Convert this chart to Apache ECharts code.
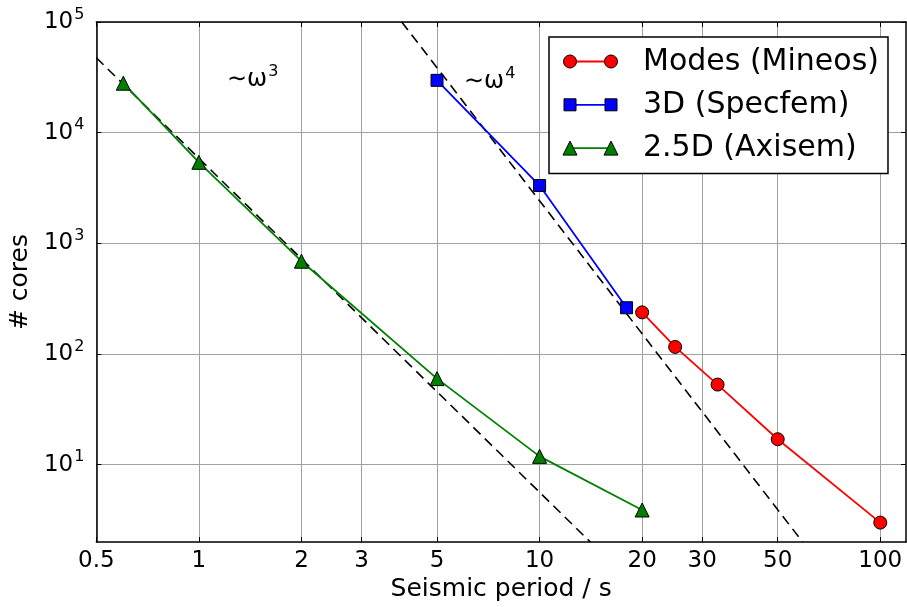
<!DOCTYPE html>
<html>
<head>
<meta charset="utf-8">
<script src="https://cdn.jsdelivr.net/npm/echarts@6/dist/echarts.min.js"></script>
<style>
  html, body { margin: 0; padding: 0; background: #fff; }
  #chart { width: 907px; height: 607px; }
</style>
</head>
<body>
<div id="chart"></div>
<script>
// ---- data ----
const xTickLabels = [0.5, 1, 2, 3, 5, 10, 20, 30, 50, 100];
const yTickLabels = [10, 100, 1000, 10000, 100000];
const xRange = [0.5, 119];
const yRange = [2, 100000];

const modesPeriod = [20, 25, 33.3, 50, 100];
const modesCores = [238, 116, 53, 17, 3];

const specfemPeriod = [5, 10, 18];
const specfemCores = [29700, 3330, 262];

const axisemPeriod = [0.6, 1, 2, 5, 10, 20];
const axisemCores = [28000, 5400, 690, 60, 11.9, 3.9];

const omega3Period = [0.5, 14.1];
const omega3Cores = [47500, 2];

const omega4Period = [3.94, 59.2];
const omega4Cores = [100000, 2];

const seriesNames = ['Modes (Mineos)', '3D (Specfem)', '2.5D (Axisem)'];
const seriesColors = ['#ff0000', '#0000ff', '#008000'];
const seriesSymbols = ['circle', 'rect', 'triangle'];
const annotationExponents = ['3', '4'];

// ---- helpers ----
const L = Math.log10;
function pairs(xs, ys) { return xs.map((x, i) => [L(x), L(ys[i])]); }
function fmtX(v) { return String(+Math.pow(10, v).toPrecision(3)); }
const FONT = 'DejaVu Sans';
const SYM_SIZE = { circle: 13, rect: 12, triangle: 14 };

const chart = echarts.init(document.getElementById('chart'), null, { renderer: 'canvas' });

const gridLine = { show: true, lineStyle: { color: '#a0a0a0', width: 1 } };
const axisLine = { show: true, onZero: false, lineStyle: { color: '#000', width: 1.5 } };
const tick = vals => ({ show: true, inside: true, length: 5, customValues: vals, lineStyle: { color: '#000', width: 1 } });

const xVals = xTickLabels.map(L);
const yVals = yTickLabels.map(L);

const supRich = {
  b: { fontFamily: FONT, fontSize: 23, color: '#000' },
  s: { fontFamily: FONT, fontSize: 16, color: '#000', padding: [0, 0, 15, 1] }
};

// legend swatches (line with a marker at each end, like the reference)
const legendLeft = 549, legendTop = 37, rowH = 43.3, firstRowY = 61.5;
function swatch(i) {
  const cy = firstRowY + i * rowH, x1 = legendLeft + 21, x2 = legendLeft + 62;
  const col = seriesColors[i], sym = seriesSymbols[i], s = SYM_SIZE[sym];
  const els = [{ type: 'line', z: 100, shape: { x1: x1, y1: cy, x2: x2, y2: cy }, style: { stroke: col, lineWidth: 1.8 } }];
  [x1, x2].forEach(cx => {
    const st = { fill: col, stroke: '#000', lineWidth: 1 };
    if (sym === 'circle') els.push({ type: 'circle', z: 101, shape: { cx: cx, cy: cy, r: s / 2 }, style: st });
    else if (sym === 'rect') els.push({ type: 'rect', z: 101, shape: { x: cx - s / 2, y: cy - s / 2, width: s, height: s }, style: st });
    else els.push({ type: 'polygon', z: 101, shape: { points: [[cx, cy - s / 2], [cx + s / 2, cy + s / 2], [cx - s / 2, cy + s / 2]] }, style: st });
  });
  return els;
}

const annoRich = {
  b: { fontFamily: FONT, fontSize: 24, fill: '#000' },
  s: { fontFamily: FONT, fontSize: 16, fill: '#000', padding: [0, 0, 15, 1] }
};

const option = {
  animation: false,
  backgroundColor: '#fff',
  textStyle: { fontFamily: FONT },
  grid: { left: 96, right: 1, top: 22, bottom: 62, containLabel: false },
  xAxis: [{
    type: 'value', min: L(xRange[0]), max: L(xRange[1]),
    name: 'Seismic period / s', nameLocation: 'middle', nameGap: 28,
    nameTextStyle: { fontFamily: FONT, fontSize: 25, color: '#000' },
    axisLine: axisLine, axisTick: tick(xVals),
    axisLabel: { customValues: xVals, formatter: fmtX, fontFamily: FONT, fontSize: 23, color: '#000', margin: 7 },
    splitLine: gridLine
  }, {
    type: 'value', position: 'top', min: L(xRange[0]), max: L(xRange[1]),
    axisLine: axisLine, axisTick: tick(xVals),
    axisLabel: { show: false, customValues: xVals },
    splitLine: { show: false }
  }],
  yAxis: [{
    type: 'value', min: L(yRange[0]), max: L(yRange[1]),
    name: '# cores', nameLocation: 'middle', nameGap: 60,
    nameTextStyle: { fontFamily: FONT, fontSize: 25, color: '#000' },
    axisLine: axisLine, axisTick: tick(yVals),
    axisLabel: {
      customValues: yVals, margin: 12, color: '#000',
      formatter: v => '{b|10}{s|' + Math.round(v) + '}',
      rich: supRich
    },
    splitLine: gridLine
  }, {
    type: 'value', position: 'right', min: L(yRange[0]), max: L(yRange[1]),
    axisLine: axisLine, axisTick: tick(yVals),
    axisLabel: { show: false, customValues: yVals },
    splitLine: { show: false }
  }],
  legend: {
    data: seriesNames,
    orient: 'vertical',
    left: legendLeft, top: legendTop,
    backgroundColor: '#fff',
    borderColor: '#000', borderWidth: 1.5, borderRadius: 0,
    padding: [10, 9, 10, 15],
    itemGap: 13.3,
    itemWidth: 55, itemHeight: 14,
    itemStyle: { opacity: 0 },
    lineStyle: { opacity: 0 },
    textStyle: { fontFamily: FONT, fontSize: 30, color: '#000', padding: [0, 0, 0, 18] }
  },
  series: [
    {
      name: 'omega3', type: 'line', data: pairs(omega3Period, omega3Cores),
      showSymbol: false, symbol: 'none', silent: true, z: 1,
      lineStyle: { color: '#000', width: 1.6, type: [10, 6] }
    },
    {
      name: 'omega4', type: 'line', data: pairs(omega4Period, omega4Cores),
      showSymbol: false, symbol: 'none', silent: true, z: 1,
      lineStyle: { color: '#000', width: 1.6, type: [10, 6] }
    }
  ].concat([[modesPeriod, modesCores], [specfemPeriod, specfemCores], [axisemPeriod, axisemCores]].map((d, i) => ({
    name: seriesNames[i], type: 'line', data: pairs(d[0], d[1]),
    symbol: seriesSymbols[i], symbolSize: SYM_SIZE[seriesSymbols[i]], z: 3,
    lineStyle: { color: seriesColors[i], width: 1.8 },
    itemStyle: { color: seriesColors[i], borderColor: '#000', borderWidth: 1 }
  }))),
  graphic: [
    { type: 'text', left: 227, top: 64, z: 50, style: { text: '{b|∼ω}{s|' + annotationExponents[0] + '}', rich: annoRich } },
    { type: 'text', left: 464, top: 66, z: 50, style: { text: '{b|∼ω}{s|' + annotationExponents[1] + '}', rich: annoRich } }
  ].concat(swatch(0), swatch(1), swatch(2))
};

chart.setOption(option);
</script>
</body>
</html>
